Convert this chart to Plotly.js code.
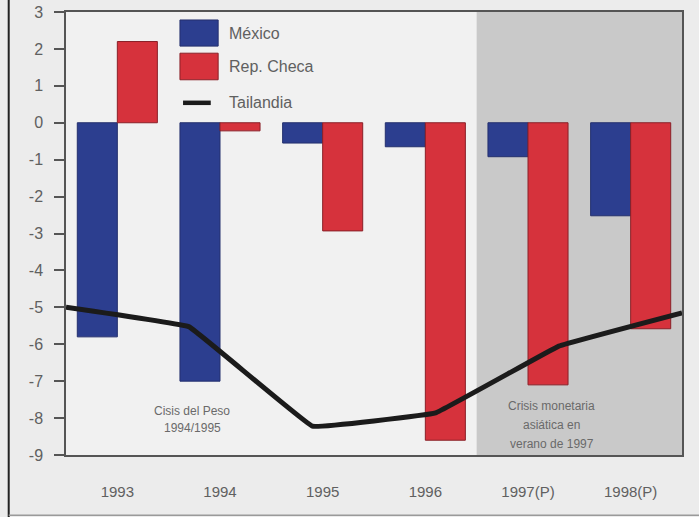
<!DOCTYPE html>
<html><head><meta charset="utf-8">
<script src="https://cdn.plot.ly/plotly-3.0.1.min.js"></script>
<style>html,body{margin:0;padding:0;background:#ececec}</style>
</head><body><div id="chart" style="width:699px;height:517px"></div>
<script>
const categories = ['1993', '1994', '1995', '1996', '1997(P)', '1998(P)'];
const mexico = [-5.8, -7.0, -0.55, -0.65, -0.92, -2.52];
const repCheca = [2.2, -0.22, -2.93, -8.6, -7.1, -5.58];
const tailandia = [-5.0, -5.53, -8.22, -7.86, -6.05, -5.15];
const yTicks = [3, 2, 1, 0, -1, -2, -3, -4, -5, -6, -7, -8, -9];
const yTickLabels = ['3', '2', '1', '0', '-1', '-2', '-3', '-4', '-5', '-6', '-7', '-8', '-9'];
const seriesNames = ['México', 'Rep. Checa', 'Tailandia'];
const pesoNote = ['Cisis del Peso', '1994/1995'];
const asiaNote = ['Crisis monetaria', 'asiática en', 'verano de 1997'];

const BLUE = '#2c3e8f', RED = '#d6323c', BLACK = '#1b1b1b', TXT = '#5a5a5a';
const F = 'Liberation Sans, Arial, sans-serif';

const traces = [
  {type: 'bar', name: seriesNames[0], x: categories, y: mexico,
   marker: {color: BLUE, line: {color: '#24306e', width: 1}}, showlegend: false},
  {type: 'bar', name: seriesNames[1], x: categories, y: repCheca,
   marker: {color: RED, line: {color: '#8a2028', width: 1}}, showlegend: false},
  {type: 'scatter', mode: 'lines', name: seriesNames[2], x: categories.map((c, i) => i), y: tailandia,
   xaxis: 'x2', line: {color: BLACK, width: 5, shape: 'spline', smoothing: 0.15}, showlegend: false}
];

const shapes = [
  {type: 'rect', xref: 'x', yref: 'paper', x0: 3.5, x1: 5.5, y0: 0, y1: 1,
   fillcolor: '#c9c9c9', line: {width: 0}, layer: 'below'},
  {type: 'line', xref: 'paper', yref: 'paper', x0: -0.093, x1: -0.093, y0: -0.15, y1: 1.05,
   line: {color: '#222', width: 2}},
  {type: 'line', xref: 'paper', yref: 'paper', x0: -0.093, x1: 1.05, y0: -0.136, y1: -0.136,
   line: {color: '#9a9a9a', width: 1.5}},
  {type: 'rect', xref: 'paper', yref: 'paper', x0: 0.185, x1: 0.247, y0: 0.923, y1: 0.982,
   fillcolor: BLUE, line: {color: '#24306e', width: 1}},
  {type: 'rect', xref: 'paper', yref: 'paper', x0: 0.185, x1: 0.247, y0: 0.847, y1: 0.907,
   fillcolor: RED, line: {color: '#8a2028', width: 1}},
  {type: 'line', xref: 'paper', yref: 'paper', x0: 0.19, x1: 0.235, y0: 0.795, y1: 0.795,
   line: {color: BLACK, width: 4.5}}
];

const annotations = [];
const legY = [0.952, 0.877, 0.795];
seriesNames.forEach((n, i) => annotations.push({
  xref: 'paper', yref: 'paper', x: 0.261, y: legY[i], xanchor: 'left', yanchor: 'middle',
  text: n, showarrow: false, font: {family: F, size: 16, color: '#606060'}
}));
pesoNote.forEach((t, i) => annotations.push({
  xref: 'x', yref: 'y', x: 0.73, y: -7.82 - i * 0.46, text: t, showarrow: false,
  font: {family: F, size: 12, color: '#6a6a6a'}
}));
asiaNote.forEach((t, i) => annotations.push({
  xref: 'x', yref: 'y', x: 4.23, y: -7.68 - i * 0.51, text: t, showarrow: false,
  font: {family: F, size: 12, color: '#6a6a6a'}
}));

const layout = {
  width: 699, height: 517,
  margin: {l: 66, r: 17, t: 12, b: 62},
  paper_bgcolor: '#ececec', plot_bgcolor: '#f1f1f1',
  barmode: 'group', bargap: 0.22, bargroupgap: 0,
  showlegend: false,
  xaxis: {type: 'category', range: [-0.5, 5.5], showgrid: false, zeroline: false,
    showline: true, linecolor: '#555', linewidth: 1.5, mirror: true, ticks: '',
    ticklabelstandoff: 22, tickfont: {family: F, size: 15, color: '#606060'}},
  xaxis2: {overlaying: 'x', range: [0, 5], visible: false},
  yaxis: {range: [-9, 3], tickvals: yTicks, ticktext: yTickLabels, showgrid: false, zeroline: false,
    showline: true, linecolor: '#555', linewidth: 1.5, mirror: true,
    ticks: 'outside', ticklen: 10, tickcolor: '#555', tickwidth: 1.5,
    ticklabelstandoff: 8, tickfont: {family: F, size: 16, color: '#606060'}},
  shapes: shapes,
  annotations: annotations
};

Plotly.newPlot('chart', traces, layout, {displayModeBar: false, responsive: false});
</script></body></html>
